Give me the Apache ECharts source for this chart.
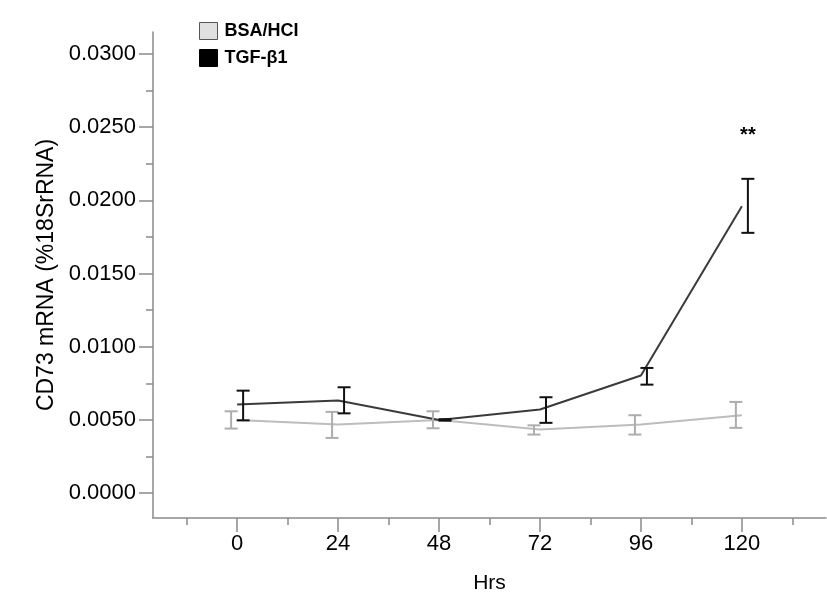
<!DOCTYPE html>
<html>
<head>
<meta charset="utf-8">
<script src="https://cdn.jsdelivr.net/npm/echarts@6/dist/echarts.min.js"></script>
<style>
html,body{margin:0;padding:0;background:#fff;}
#chart{width:827px;height:603px;}
</style>
</head>
<body>
<div id="chart"></div>
<script>
// Data
const hours = [0, 24, 48, 72, 96, 120];
const bsaMean  = [0.00500, 0.00468, 0.00500, 0.00434, 0.00468, 0.00532];
const bsaLow   = [0.00441, 0.00377, 0.00443, 0.00400, 0.00400, 0.00446];
const bsaHigh  = [0.00559, 0.00555, 0.00559, 0.00463, 0.00532, 0.00623];
const tgfMean  = [0.00605, 0.00632, 0.00500, 0.00571, 0.00803, 0.01960];
const tgfLow   = [0.00497, 0.00545, 0.00495, 0.00480, 0.00741, 0.01778];
const tgfHigh  = [0.00700, 0.00723, 0.00505, 0.00655, 0.00855, 0.02147];
const significance = ['', '', '', '', '', '**'];
const xTicks = [0, 24, 48, 72, 96, 120];
const xMinorTicks = [-12, 12, 36, 60, 84, 108, 132];
const yTicks = [0, 0.005, 0.010, 0.015, 0.020, 0.025, 0.030];
const yMinorTicks = [0.0025, 0.0075, 0.0125, 0.0175, 0.0225, 0.0275];

const FONT = 'Liberation Sans, Arial, sans-serif';
const AXIS_COLOR = '#8a8a8a';

function errData(low, high, sig) {
  return hours.map((h, i) => [h, low[i], high[i], sig ? sig[i] : '']);
}
function errRender(offset, color) {
  return function (params, api) {
    const x = api.value(0);
    const lo = api.coord([x, api.value(1)]);
    const hi = api.coord([x, api.value(2)]);
    const px = lo[0] + offset;
    const cap = 6.5;
    const style = { stroke: color, lineWidth: 2, fill: null };
    const children = [
      { type: 'line', shape: { x1: px, y1: hi[1], x2: px, y2: lo[1] }, style },
      { type: 'line', shape: { x1: px - cap, y1: hi[1], x2: px + cap, y2: hi[1] }, style },
      { type: 'line', shape: { x1: px - cap, y1: lo[1], x2: px + cap, y2: lo[1] }, style }
    ];
    const s = api.value(3);
    if (s) {
      children.push({
        type: 'text',
        style: { text: s, x: px, y: hi[1] - 43, align: 'center', verticalAlign: 'middle',
                 font: 'bold 20px ' + FONT, fill: '#000' }
      });
    }
    return { type: 'group', children };
  };
}

const chart = echarts.init(document.getElementById('chart'), null, { renderer: 'canvas' });
const xBase = { type: 'value', min: -20, max: 140, gridIndex: 0, position: 'bottom', splitLine: { show: false } };
const yBase = { type: 'value', min: -0.0017, max: 0.0315, gridIndex: 0, position: 'left', splitLine: { show: false } };

chart.setOption({
  backgroundColor: '#ffffff',
  animation: false,
  grid: { left: 153, right: 1, top: 32, bottom: 85, containLabel: false },
  legend: {
    left: 194, top: 17, orient: 'vertical', icon: 'rect',
    itemWidth: 18, itemHeight: 17, itemGap: 9,
    textStyle: { fontFamily: FONT, fontSize: 18, fontWeight: 'bold', color: '#000', padding: [0, 0, 0, 2] },
    data: [
      { name: 'BSA/HCI', itemStyle: { color: '#e0e0e0', borderColor: '#555', borderWidth: 1 } },
      { name: 'TGF-β1', itemStyle: { color: '#000', borderColor: '#000', borderWidth: 1 } }
    ]
  },
  xAxis: [
    Object.assign({}, xBase, {
      name: 'Hrs', nameLocation: 'middle', nameGap: 55,
      nameTextStyle: { fontFamily: FONT, fontSize: 21, color: '#000' },
      axisLine: { show: true, onZero: false, lineStyle: { color: AXIS_COLOR, width: 1.5 } },
      axisTick: { show: true, length: 14, customValues: xTicks, lineStyle: { color: AXIS_COLOR, width: 1.5 } },
      axisLabel: { show: true, customValues: xTicks, margin: 15, fontFamily: FONT, fontSize: 22, color: '#000' }
    }),
    Object.assign({}, xBase, {
      axisLine: { show: false, onZero: false },
      axisTick: { show: true, length: 7, customValues: xMinorTicks, lineStyle: { color: AXIS_COLOR, width: 1.5 } },
      axisLabel: { show: false }
    })
  ],
  yAxis: [
    Object.assign({}, yBase, {
      name: 'CD73 mRNA (%18SrRNA)', nameLocation: 'middle', nameGap: 87,
      nameTextStyle: { fontFamily: FONT, fontSize: 23, color: '#000' },
      axisLine: { show: true, onZero: false, lineStyle: { color: AXIS_COLOR, width: 1.5 } },
      axisTick: { show: true, length: 14, customValues: yTicks, lineStyle: { color: AXIS_COLOR, width: 1.5 } },
      axisLabel: { show: true, customValues: yTicks, margin: 17, fontFamily: FONT, fontSize: 22, color: '#000',
                   formatter: v => v.toFixed(4) }
    }),
    Object.assign({}, yBase, {
      axisLine: { show: false, onZero: false },
      axisTick: { show: true, length: 7, customValues: yMinorTicks, lineStyle: { color: AXIS_COLOR, width: 1.5 } },
      axisLabel: { show: false }
    })
  ],
  series: [
    {
      name: 'BSA/HCI', type: 'line', xAxisIndex: 0, yAxisIndex: 0,
      data: hours.map((h, i) => [h, bsaMean[i]]),
      symbol: 'none', lineStyle: { color: '#bdbdbd', width: 2 }, itemStyle: { color: '#e0e0e0' }, z: 2
    },
    {
      name: 'TGF-β1', type: 'line', xAxisIndex: 0, yAxisIndex: 0,
      data: hours.map((h, i) => [h, tgfMean[i]]),
      symbol: 'none', lineStyle: { color: '#3a3a3a', width: 2 }, itemStyle: { color: '#000' }, z: 3
    },
    {
      name: 'BSA err', type: 'custom', xAxisIndex: 0, yAxisIndex: 0,
      data: errData(bsaLow, bsaHigh), renderItem: errRender(-6, '#adadad'), z: 4
    },
    {
      name: 'TGF err', type: 'custom', xAxisIndex: 0, yAxisIndex: 0,
      data: errData(tgfLow, tgfHigh, significance), renderItem: errRender(6, '#111'), z: 5
    }
  ]
});
</script>
</body>
</html>
